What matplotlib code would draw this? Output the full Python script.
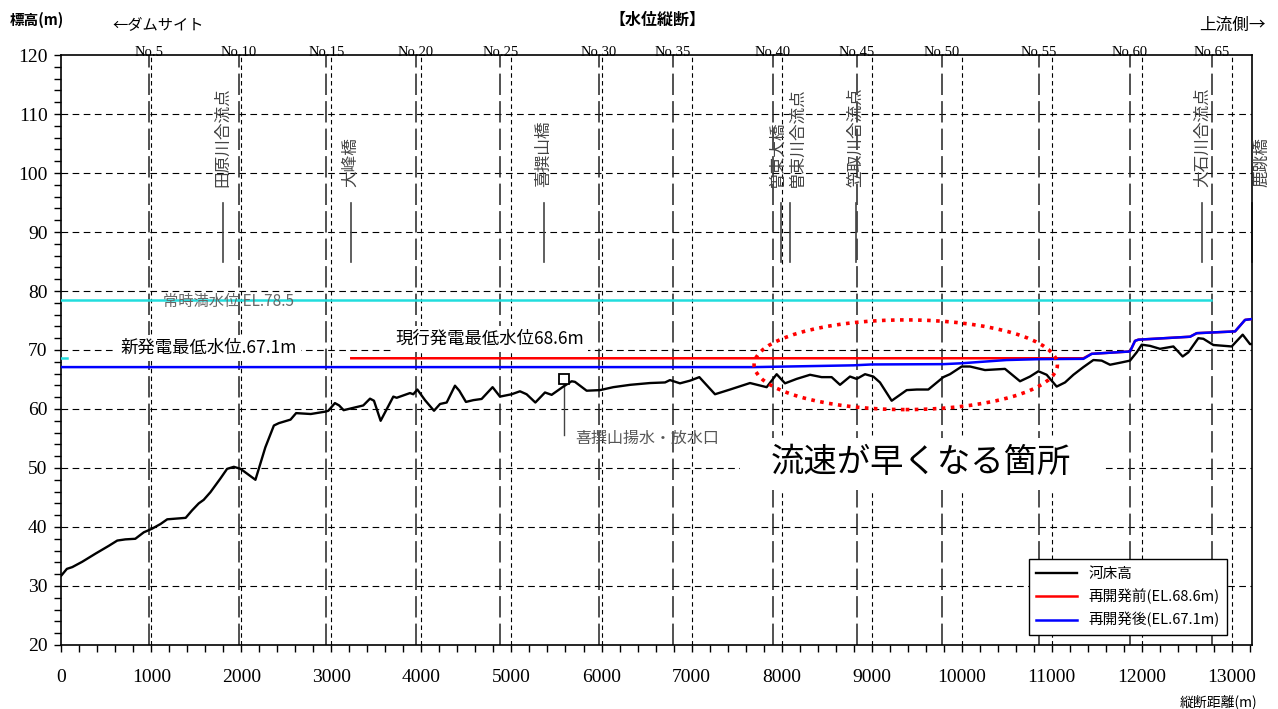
import matplotlib.pyplot as plt
from matplotlib.patches import Ellipse, Rectangle
from matplotlib.ticker import MultipleLocator

jp = ['Noto Sans CJK JP', 'DejaVu Sans']
serif = 'Liberation Serif'

# river bed profile
distance = [0, 60, 120, 230, 380, 525, 620, 710, 820, 915, 1005, 1100, 1175, 1380,
            1450, 1525, 1580, 1655, 1765, 1840, 1915, 1990, 2155, 2265, 2360, 2415,
            2545, 2607, 2770, 2930, 2965, 3038, 3085, 3135, 3353, 3428, 3472, 3546,
            3687, 3724, 3872, 3909, 3954, 4039, 4139, 4206, 4280, 4372, 4420, 4494,
            4576, 4668, 4790, 4872, 5002, 5094, 5168, 5265, 5372, 5446, 5576, 5668,
            5705, 5835, 5983, 6131, 6320, 6539, 6706, 6761, 6872, 6983, 7087, 7261,
            7428, 7650, 7835, 7946, 8039, 8168, 8317, 8446, 8557, 8650, 8761, 8835,
            8928, 9020, 9094, 9224, 9391, 9502, 9631, 9798, 9872, 10002, 10094, 10261,
            10483, 10650, 10761, 10854, 10946, 11057, 11150, 11243, 11354, 11465, 11557,
            11650, 11780, 11872, 11946, 12002, 12094, 12205, 12354, 12457, 12520, 12631,
            12687, 12798, 13002, 13124, 13205, 13228]
bed = [31.8, 32.9, 33.2, 34.1, 35.5, 36.8, 37.7, 37.9, 38.0, 39.1, 39.7, 40.5, 41.3, 41.55,
       42.8, 44.0, 44.6, 45.9, 48.2, 49.85, 50.2, 49.85, 48.0, 53.5, 57.2, 57.6,
       58.2, 59.3, 59.15, 59.55, 59.7, 61.0, 60.6, 59.8, 60.6, 61.75, 61.4, 58.0,
       62.1, 61.9, 62.7, 62.5, 63.3, 61.5, 59.7, 60.85, 61.1, 63.95, 63.1, 61.2,
       61.5, 61.7, 63.7, 62.1, 62.5, 63.0, 62.5, 61.1, 62.8, 62.4, 63.8, 64.7,
       64.6, 63.1, 63.2, 63.7, 64.1, 64.4, 64.5, 64.9, 64.35, 64.8, 65.4, 62.5,
       63.3, 64.4, 63.7, 65.9, 64.35, 65.1, 65.8, 65.4, 65.4, 64.1, 65.5, 65.1,
       65.9, 65.5, 64.5, 61.4, 63.2, 63.3, 63.3, 65.4, 65.9, 67.2, 67.2, 66.6,
       66.8, 64.7, 65.5, 66.4, 65.8, 63.8, 64.5, 65.8, 67.1, 68.3, 68.2,
       67.5, 67.9, 68.2, 69.6, 70.9, 70.7, 70.2, 70.6, 68.9, 69.6, 72.0,
       71.9, 70.85, 70.6, 72.6, 71.0, 71.0]

# water level before redevelopment (EL.68.6m)
before_x = [3220, 11354, 11446, 11872, 11928, 11965, 12539, 12613, 13039, 13150, 13228]
before_y = [68.6, 68.6, 69.35, 69.75, 71.55, 71.75, 72.25, 72.85, 73.15, 75.1, 75.25]

# water level after redevelopment (EL.67.1m)
after_x = [0, 7700, 8800, 9000, 9800, 10000, 10500, 10870, 11354, 11446, 11872, 11928,
           11965, 12539, 12613, 13039, 13150, 13228]
after_y = [67.1, 67.1, 67.4, 67.55, 67.6, 67.75, 68.3, 68.45, 68.5, 69.35, 69.75, 71.55,
           71.75, 72.25, 72.85, 73.15, 75.1, 75.25]

full_level = 78.5
full_level_end = 12770

station_names = ['No.5', 'No.10', 'No.15', 'No.20', 'No.25', 'No.30', 'No.35',
                 'No.40', 'No.45', 'No.50', 'No.55', 'No.60', 'No.65']
station_x = [975, 1975, 2943, 3939, 4876, 5968, 6790, 7900, 8838, 9785, 10862, 11870, 12778]

landmark_names = ['田原川合流点', '大峰橋', '喜撰山橋', '曽束大橋', '曽束川合流点',
                  '笠取川合流点', '大石川合流点', '鹿跳橋']
landmark_x = [1791, 3217, 5361, 7996, 8091, 8830, 12676, 13228]

outlet_x = 5580
outlet_y = 65.1

xmax = 13228

fig = plt.figure(figsize=(12.78, 7.09), dpi=100)
ax = fig.add_axes([0.0481, 0.0903, 0.9316, 0.8321])
ax.set_xlim(0, xmax)
ax.set_ylim(20, 120)

# grid
for y in range(30, 120, 10):
    ax.axhline(y, color='black', lw=0.8, ls=(0, (6, 4)), zorder=1)
for x in range(1000, 14000, 1000):
    if x < xmax:
        ax.axvline(x, color='black', lw=0.8, ls=(0, (4, 3)), zorder=1)
for name, x in zip(station_names, station_x):
    ax.axvline(x, color='#222222', lw=1.1, ls=(0, (14, 4)), zorder=1)
    ax.text(x, 120.4, name, ha='center', va='center', family=serif, fontsize=10.5, clip_on=False)

# landmarks
offsets = {'曽束大橋': -45, '曽束川合流点': 80, '鹿跳橋': 110}
for name, x in zip(landmark_names, landmark_x):
    ax.plot([x, x], [85, 95], color='#444444', lw=1.2, zorder=2, clip_on=False)
    ax.text(x + offsets.get(name, 0), 97.6, name, rotation=90, ha='center', va='bottom',
            family=jp, fontsize=12, color='#444444', clip_on=False)

ax.plot([0, full_level_end], [full_level, full_level], color='#22dddd', lw=1.8, zorder=3)
ax.plot([0, 60], [68.6, 68.6], color='#22dddd', lw=1.8, zorder=3)
ax.text(1133, full_level - 0.3, '常時満水位 EL.78.5', ha='left', va='center', family=jp,
        fontsize=11, color='#666666')

ax.plot(before_x, before_y, color='red', lw=1.8, zorder=3, label='再開発前(EL.68.6m)')
ax.plot(after_x, after_y, color='blue', lw=1.8, zorder=4, label='再開発後(EL.67.1m)')
ax.plot(distance, bed, color='black', lw=1.7, zorder=5, label='河床高')

white = dict(fc='white', ec='none', pad=3)
ax.text(650, 70.3, '新発電最低水位.67.1m', ha='left', va='center', family=jp, fontsize=12.5,
        bbox=white, zorder=2)
ax.text(3705, 71.9, '現行発電最低水位68.6m', ha='left', va='center', family=jp, fontsize=12.5,
        bbox=white, zorder=2)

# outlet
ax.plot([outlet_x, outlet_x], [outlet_y - 0.7, 55.6], color='#444444', lw=1, zorder=4)
ax.plot([outlet_x], [outlet_y], marker='s', ms=7, mfc='white', mec='black', mew=1.3, zorder=6)
ax.text(5706, 55.0, '喜撰山揚水・放水口', ha='left', va='center', family=jp, fontsize=11.5,
        color='#555555')

ax.add_patch(Ellipse((9380, 67.5), 3370, 15.2, fill=False, ec='red', lw=2.6,
                     ls=(0, (1, 1.5)), zorder=6))

tx, ty = 9547, 51.0
ax.add_patch(Rectangle((tx - 2010, ty - 4.8), 4020, 8.8, fc='white', ec='none', zorder=2))
ax.text(tx, ty, '流速が早くなる箇所', ha='center', va='center', family=jp, fontsize=24, zorder=7)

handles, labels = ax.get_legend_handles_labels()
order = [2, 0, 1]
leg = ax.legend([handles[i] for i in order], [labels[i] for i in order], loc='lower right',
                bbox_to_anchor=(0.979, 0.017), borderaxespad=0, fancybox=False,
                edgecolor='black', framealpha=1, prop={'family': jp, 'size': 10.5},
                handlelength=2.8, labelspacing=0.55, borderpad=0.5)
leg.get_frame().set_linewidth(1.0)
leg.set_zorder(8)

ax.xaxis.set_major_locator(MultipleLocator(1000))
ax.xaxis.set_minor_locator(MultipleLocator(200))
ax.yaxis.set_major_locator(MultipleLocator(10))
ax.yaxis.set_minor_locator(MultipleLocator(2))
ax.tick_params(which='both', direction='out', length=5, width=1)
ax.tick_params(axis='x', pad=12)
ax.tick_params(axis='y', pad=5)
for lab in ax.get_xticklabels() + ax.get_yticklabels():
    lab.set_family(serif)
    lab.set_fontsize(14)
for s in ax.spines.values():
    s.set_linewidth(1.2)

fig.text(10 / 1278, 1 - 20 / 709, '標高(m)', ha='left', va='center', family=jp,
         fontsize=10.5, fontweight='bold')
fig.text(112 / 1278, 1 - 25 / 709, '←ダムサイト', ha='left', va='center', family=jp,
         fontsize=11)
fig.text(657 / 1278, 1 - 20 / 709, '【水位縦断】', ha='center', va='center', family=jp,
         fontsize=11.5, fontweight='bold')
fig.text(1266 / 1278, 1 - 25 / 709, '上流側→', ha='right', va='center', family=jp,
         fontsize=12)
fig.text(1257 / 1278, 1 - 702 / 709, '縦断距離(m)', ha='right', va='center', family=jp,
         fontsize=10)

fig.savefig('out.png', dpi=100)
